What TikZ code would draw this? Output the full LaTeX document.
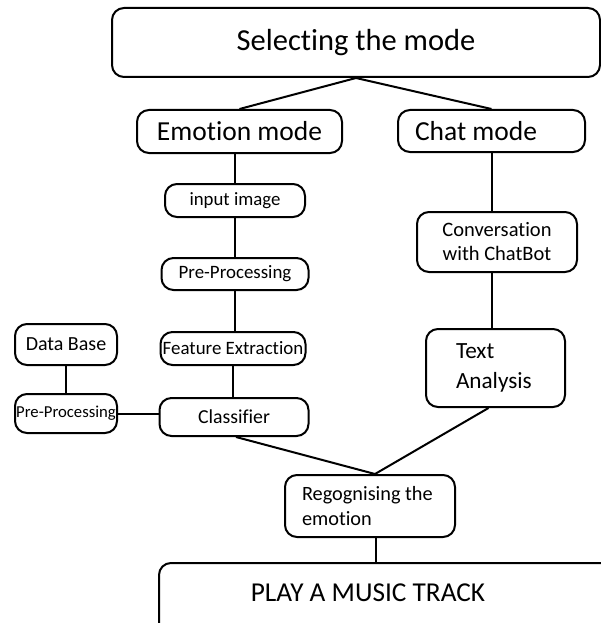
\documentclass[tikz,border=0pt]{standalone}
\usepackage{fontspec}
\setmainfont{Carlito}[Ligatures=NoCommon]
\begin{document}
\begin{tikzpicture}[x=1pt,y=-1pt,
    stage/.style={draw,line width=2pt,rounded corners=12pt,inner sep=0pt,align=center},
    link/.style={line width=2pt}]
    \useasboundingbox (0,0) rectangle (601,623);
    \node[stage,minimum width=488pt,minimum height=69pt,font=\fontsize{30.5}{34}\selectfont] (mode) at (356,42.5) {Selecting the mode};
    \node[stage,minimum width=205pt,minimum height=43pt,font=\fontsize{27.5}{32}\selectfont] (emotion) at (239.5,131.5) {Emotion mode};
    \node[stage,minimum width=187pt,minimum height=42pt,text width=153pt,inner xsep=17pt,align=flush left,font=\fontsize{27.5}{32}\selectfont] (chat) at (491.5,131) {Chat mode};
    \node[stage,minimum width=140pt,minimum height=33pt,font=\fontsize{18.8}{22}\selectfont] (input) at (235,200.5) {input image};
    \node[stage,minimum width=147pt,minimum height=32pt,font=\fontsize{18.9}{22}\selectfont] (prepro) at (235,274) {Pre-Processing};
    \node[stage,minimum width=145pt,minimum height=33pt,font=\fontsize{18.9}{22}\selectfont] (feature) at (233,348.5) {Feature Extraction};
    \node[stage,minimum width=149pt,minimum height=38pt,font=\fontsize{19.8}{23}\selectfont] (classifier) at (234,417) {Classifier};
    \node[stage,minimum width=102pt,minimum height=41pt,font=\fontsize{20}{24}\selectfont] (database) at (66,344.5) {Data Base};
    \node[stage,minimum width=102pt,minimum height=39pt,font=\fontsize{16.7}{20}\selectfont] (dbprepro) at (66,413.5) {Pre-Processing};
    \node[stage,minimum width=160pt,minimum height=60pt,font=\fontsize{20.5}{24}\selectfont] (conversation) at (497,242) {Conversation\\with ChatBot};
    \node[stage,minimum width=139pt,minimum height=78pt,text width=79pt,inner xsep=30pt,align=flush left,font=\fontsize{23.2}{30}\selectfont] (textanalysis) at (495.5,368) {Text\\Analysis};
    \node[stage,minimum width=170pt,minimum height=62pt,text width=136pt,inner xsep=17pt,align=flush left,font=\fontsize{20.3}{25}\selectfont] (recognise) at (370,506) {Regognising the\\emotion};
    \node[stage,minimum width=500pt,minimum height=110pt,anchor=north west] (play) at (158,562) {};
    \node[font=\fontsize{27.3}{32}\selectfont] (playtext) at (368,593) {PLAY A MUSIC TRACK};
    % connectors
    \draw[link] (mode.south) -- (emotion.north);
    \draw[link] (mode.south) -- (chat.north);
    \draw[link] (input.north |- emotion.south) -- (input.north);
    \draw[link] (input.south) -- (input.south |- prepro.north);
    \draw[link] (prepro.south) -- (prepro.south |- feature.north);
    \draw[link] (feature.south) -- (feature.south |- classifier.north);
    \draw[link] (database.south) -- (dbprepro.north);
    \draw[link] (dbprepro.east) -- (dbprepro.east -| classifier.west);
    \draw[link] (chat.south) -- (chat.south |- conversation.north);
    \draw[link] (chat.south |- conversation.south) -- (chat.south |- textanalysis.north);
    \draw[link] ([xshift=2pt]classifier.south) -- ([xshift=5pt]recognise.north);
    \draw[link] ([xshift=-7pt]textanalysis.south) -- ([xshift=5pt]recognise.north);
    \draw[link] ([xshift=6pt]recognise.south) -- ([xshift=6pt]recognise.south |- play.north);
\end{tikzpicture}
\end{document}
